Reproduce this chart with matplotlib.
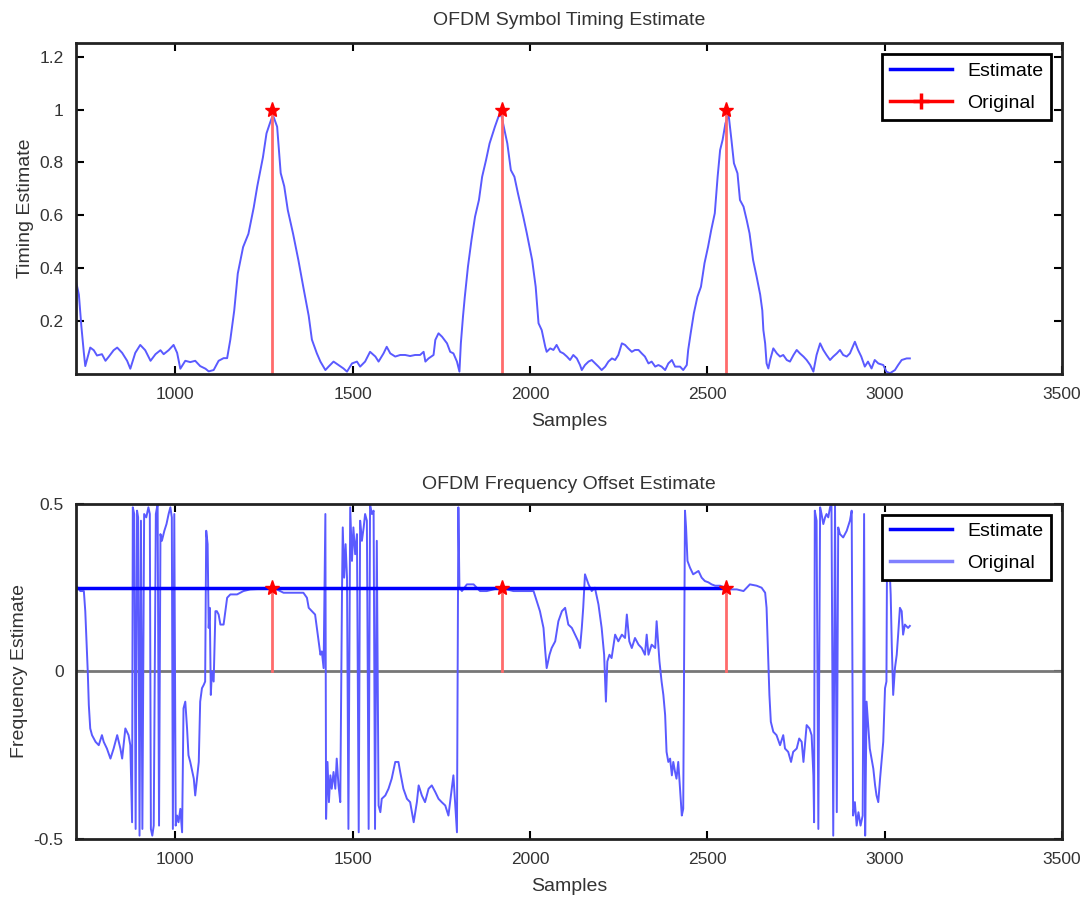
import matplotlib
matplotlib.use("Agg")
from matplotlib import pyplot as plt
from matplotlib.lines import Line2D

# Timing metric (top panel)
timing_x = [720, 728, 735, 742, 746, 760, 770, 779, 793, 803, 812, 826, 836, 850, 864, 873,
	887, 901, 915, 930, 944, 958, 967, 981, 995, 1005, 1014, 1028, 1042, 1056, 1070, 1085,
	1094, 1108, 1122, 1136, 1146, 1155, 1166, 1176, 1191, 1206, 1221, 1231, 1247, 1257, 1267,
	1275, 1287, 1297, 1307, 1317, 1332, 1347, 1362, 1376, 1385, 1399, 1409, 1423, 1432, 1446,
	1460, 1474, 1484, 1498, 1512, 1521, 1535, 1549, 1564, 1573, 1587, 1596, 1606, 1620, 1634,
	1648, 1662, 1676, 1690, 1700, 1705, 1714, 1728, 1733, 1742, 1752, 1766, 1775, 1784, 1794,
	1801, 1805, 1811, 1816, 1825, 1835, 1845, 1856, 1865, 1876, 1886, 1901, 1911, 1919, 1926,
	1936, 1946, 1956, 1966, 1981, 1991, 2006, 2016, 2024, 2033, 2043, 2047, 2057, 2066, 2075,
	2085, 2094, 2104, 2113, 2122, 2132, 2141, 2146, 2155, 2165, 2174, 2184, 2193, 2202, 2212,
	2221, 2231, 2240, 2249, 2259, 2268, 2277, 2287, 2296, 2306, 2315, 2324, 2334, 2343, 2353,
	2362, 2371, 2381, 2390, 2400, 2409, 2423, 2432, 2442, 2446, 2453, 2462, 2472, 2482, 2492,
	2502, 2511, 2521, 2529, 2536, 2543, 2551, 2560, 2568, 2575, 2585, 2592, 2602, 2611, 2619,
	2629, 2639, 2649, 2655, 2658, 2663, 2667, 2672, 2677, 2686, 2696, 2705, 2714, 2724, 2733,
	2743, 2752, 2761, 2771, 2780, 2790, 2799, 2808, 2818, 2827, 2836, 2846, 2855, 2865, 2874,
	2883, 2893, 2902, 2916, 2925, 2934, 2944, 2953, 2963, 2972, 2982, 2996, 3005, 3015, 3029,
	3038, 3048, 3062, 3071]
timing_y = [0.35, 0.30, 0.18, 0.08, 0.03, 0.10, 0.09, 0.07, 0.075, 0.05, 0.065, 0.09, 0.10, 0.08, 0.05, 0.02,
	0.08, 0.11, 0.09, 0.05, 0.075, 0.09, 0.075, 0.09, 0.11, 0.08, 0.02, 0.05, 0.045, 0.05, 0.03, 0.02,
	0.01, 0.015, 0.05, 0.06, 0.06, 0.13, 0.24, 0.38, 0.48, 0.53, 0.63, 0.71, 0.82, 0.91, 0.95,
	0.98, 0.935, 0.76, 0.71, 0.62, 0.53, 0.43, 0.32, 0.22, 0.13, 0.078, 0.047, 0.015, 0.028, 0.047,
	0.034, 0.021, 0.009, 0.04, 0.047, 0.028, 0.047, 0.084, 0.066, 0.047, 0.078, 0.103, 0.078, 0.066, 0.072,
	0.072, 0.068, 0.072, 0.072, 0.084, 0.047, 0.059, 0.072, 0.129, 0.154, 0.141, 0.116, 0.084, 0.078, 0.047,
	0.009, 0.116, 0.217, 0.29, 0.406, 0.507, 0.595, 0.658, 0.746, 0.809, 0.872, 0.935, 0.973, 0.98, 0.935,
	0.872, 0.771, 0.746, 0.683, 0.595, 0.532, 0.431, 0.33, 0.192, 0.166, 0.103, 0.084, 0.097, 0.091, 0.110,
	0.084, 0.078, 0.066, 0.053, 0.072, 0.059, 0.034, 0.015, 0.034, 0.047, 0.053, 0.04, 0.028, 0.015, 0.028,
	0.047, 0.059, 0.053, 0.072, 0.116, 0.110, 0.097, 0.084, 0.091, 0.091, 0.078, 0.066, 0.04, 0.047, 0.028,
	0.034, 0.028, 0.015, 0.04, 0.053, 0.028, 0.028, 0.015, 0.034, 0.091, 0.154, 0.23, 0.292, 0.33, 0.419,
	0.481, 0.545, 0.608, 0.746, 0.847, 0.885, 0.948, 0.98, 0.885, 0.797, 0.759, 0.658, 0.633, 0.582, 0.532,
	0.431, 0.368, 0.30, 0.24, 0.166, 0.116, 0.04, 0.021, 0.053, 0.097, 0.078, 0.066, 0.072, 0.053, 0.047,
	0.072, 0.091, 0.078, 0.066, 0.053, 0.034, 0.009, 0.072, 0.116, 0.091, 0.072, 0.053, 0.066, 0.078, 0.091,
	0.072, 0.066, 0.078, 0.122, 0.091, 0.066, 0.028, 0.047, 0.021, 0.053, 0.04, 0.034, 0.009, 0.003, 0.015,
	0.034, 0.053, 0.059, 0.059]

# Frequency offset estimate (bottom panel)
freq_x = [721, 732, 742, 746, 751, 753, 756, 760, 765, 775, 784, 793, 798, 807, 817, 826, 836, 845, 850,
	859, 868, 873, 878, 880, 884, 888, 892, 895, 899, 903, 907, 912, 918, 924, 928, 931, 935, 939,
	945, 950, 954, 958, 962, 969, 975, 981, 986, 990, 993, 997, 1001, 1005, 1009, 1014, 1019, 1023,
	1028, 1033, 1037, 1042, 1052, 1056, 1061, 1066, 1070, 1075, 1080, 1084, 1087, 1091, 1094, 1097,
	1100, 1103, 1108, 1113, 1117, 1122, 1127, 1136, 1146, 1155, 1174, 1192, 1211, 1249, 1268, 1286,
	1305, 1324, 1343, 1361, 1371, 1376, 1385, 1394, 1399, 1404, 1409, 1413, 1418, 1423, 1425, 1429,
	1433, 1437, 1441, 1446, 1451, 1455, 1460, 1465, 1470, 1472, 1476, 1480, 1484, 1488, 1493, 1498,
	1502, 1507, 1512, 1517, 1521, 1526, 1531, 1535, 1540, 1545, 1549, 1554, 1559, 1563, 1568, 1573,
	1578, 1582, 1592, 1601, 1610, 1620, 1629, 1634, 1643, 1653, 1662, 1672, 1681, 1686, 1695, 1704,
	1714, 1723, 1733, 1742, 1751, 1761, 1770, 1777, 1784, 1794, 1798, 1801, 1808, 1822, 1841, 1859,
	1878, 1897, 1916, 1935, 1953, 1972, 1991, 2010, 2019, 2028, 2038, 2043, 2047, 2055, 2061, 2071,
	2080, 2090, 2099, 2108, 2118, 2127, 2136, 2141, 2146, 2150, 2155, 2165, 2174, 2183, 2193, 2202,
	2209, 2214, 2218, 2224, 2230, 2240, 2249, 2259, 2268, 2273, 2280, 2287, 2296, 2306, 2315, 2324,
	2329, 2334, 2343, 2353, 2357, 2365, 2371, 2376, 2381, 2385, 2390, 2395, 2400, 2404, 2409, 2413,
	2418, 2423, 2428, 2432, 2437, 2440, 2444, 2451, 2460, 2475, 2484, 2493, 2503, 2512, 2522, 2536,
	2550, 2564, 2583, 2602, 2620, 2639, 2653, 2663, 2667, 2672, 2675, 2679, 2686, 2695, 2705, 2714,
	2719, 2728, 2736, 2742, 2752, 2759, 2766, 2771, 2780, 2788, 2794, 2799, 2801, 2803, 2808, 2813,
	2818, 2822, 2827, 2832, 2836, 2841, 2846, 2850, 2855, 2860, 2865, 2869, 2874, 2883, 2893, 2902,
	2907, 2911, 2916, 2921, 2926, 2932, 2938, 2942, 2945, 2949, 2954, 2958, 2963, 2968, 2973, 2977,
	2982, 2987, 2991, 2996, 3001, 3005, 3007, 3013, 3017, 3020, 3024, 3029, 3034, 3038, 3043, 3048,
	3052, 3057, 3066, 3071]
freq_y = [0.255, 0.24, 0.24, 0.18, 0.05, 0.0, -0.10, -0.17, -0.19, -0.21, -0.22, -0.19, -0.21, -0.23, -0.26, -0.23, -0.19, -0.23, -0.26,
	-0.17, -0.19, -0.22, -0.45, 0.49, 0.47, -0.47, 0.48, 0.46, -0.49, 0.45, -0.47, 0.47, 0.46, 0.49, 0.47, -0.47, -0.49, -0.46,
	0.47, 0.50, -0.46, 0.41, 0.39, 0.42, 0.44, 0.47, 0.49, 0.46, -0.47, 0.47, -0.46, -0.43, -0.45, -0.41, -0.48, -0.11,
	-0.09, -0.17, -0.25, -0.27, -0.32, -0.37, -0.32, -0.27, -0.09, -0.05, -0.04, -0.03, 0.42, 0.38, 0.13, 0.19,
	-0.07, 0.0, -0.03, 0.18, 0.18, 0.17, 0.14, 0.14, 0.22, 0.23, 0.23, 0.24, 0.245, 0.247, 0.25, 0.245,
	0.235, 0.235, 0.235, 0.235, 0.22, 0.19, 0.18, 0.17, 0.13, 0.09, 0.05, 0.06, 0.01, 0.47, -0.44, -0.27,
	-0.39, -0.31, -0.35, -0.30, -0.35, -0.26, -0.34, -0.39, 0.25, 0.43, 0.28, 0.38, 0.28, -0.47, 0.49, 0.33,
	0.43, 0.35, 0.41, -0.48, 0.45, 0.39, 0.43, 0.47, 0.45, -0.47, 0.50, 0.47, 0.48, -0.47, 0.39, -0.40,
	-0.42, -0.38, -0.37, -0.35, -0.32, -0.27, -0.27, -0.30, -0.35, -0.38, -0.39, -0.45, -0.39, -0.34, -0.37, -0.39,
	-0.35, -0.34, -0.36, -0.38, -0.39, -0.40, -0.43, -0.37, -0.31, -0.48, 0.49, 0.25, 0.24, 0.26, 0.26, 0.24,
	0.24, 0.245, 0.25, 0.245, 0.24, 0.24, 0.24, 0.24, 0.21, 0.18, 0.13, 0.06, 0.01, 0.05, 0.07, 0.09,
	0.15, 0.18, 0.19, 0.14, 0.13, 0.11, 0.09, 0.07, 0.13, 0.19, 0.29, 0.26, 0.24, 0.25, 0.20, 0.13,
	0.05, -0.09, 0.03, 0.05, 0.04, 0.11, 0.09, 0.11, 0.10, 0.17, 0.09, 0.07, 0.10, 0.08, 0.07, 0.05,
	0.11, 0.05, 0.08, 0.07, 0.15, 0.03, -0.03, -0.07, -0.13, -0.24, -0.27, -0.26, -0.31, -0.27, -0.30, -0.32,
	-0.27, -0.35, -0.43, -0.41, 0.48, 0.43, 0.33, 0.31, 0.29, 0.30, 0.28, 0.27, 0.266, 0.26, 0.256, 0.256,
	0.25, 0.245, 0.245, 0.24, 0.26, 0.256, 0.25, 0.235, 0.19, 0.03, -0.07, -0.15, -0.18, -0.19, -0.22, -0.19,
	-0.23, -0.24, -0.27, -0.24, -0.23, -0.20, -0.21, -0.27, -0.16, -0.17, -0.19, -0.31, -0.45, 0.48, 0.45, -0.47,
	0.49, 0.47, 0.44, 0.46, 0.47, 0.46, 0.49, 0.50, -0.49, 0.50, -0.42, 0.43, 0.41, 0.40, 0.42, 0.45,
	0.48, -0.43, -0.39, -0.46, -0.42, -0.46, -0.43, 0.47, -0.49, -0.09, -0.17, -0.23, -0.26, -0.29, -0.34, -0.37,
	-0.39, -0.32, -0.27, -0.21, -0.05, -0.03, 0.42, 0.33, 0.23, 0.08, -0.07, 0.01, 0.05, 0.11, 0.19, 0.18,
	0.11, 0.14, 0.13, 0.136]

symbol_starts = [1272, 1920, 2552]
timing_peak = 1.0
true_offset = 0.25
offset_line_x = [720, 2552]

plt.rcParams["font.family"] = ["Liberation Sans", "DejaVu Sans"]
txt = "#333333"
curve_col = "#5a5aff"
stem_col = "#ff6b6b"

fig, ax = plt.subplots(nrows=2, ncols=1, figsize=(10.88, 8.98), dpi=100)
ax[0].set_position([0.0699, 0.5835, 0.9062, 0.3681])
ax[1].set_position([0.0699, 0.0657, 0.9062, 0.3731])

# top: timing metric
ax[0].plot(timing_x, timing_y, color=curve_col, linewidth=1.4)
for s in symbol_starts:
	ax[0].plot([s, s], [0, timing_peak], color=stem_col, linewidth=2)
ax[0].plot(symbol_starts, [timing_peak] * len(symbol_starts), "*", color="red", markersize=11)
ax[0].set_xlim(720, 3500)
ax[0].set_ylim(0, 1.25)
ax[0].set_yticks([0.2, 0.4, 0.6, 0.8, 1.0, 1.2])
ax[0].set_yticklabels(["0.2", "0.4", "0.6", "0.8", "1", "1.2"])
ax[0].set_title("OFDM Symbol Timing Estimate", fontsize=14, color=txt, pad=13)
ax[0].set_ylabel("Timing Estimate", fontsize=14, color=txt)
custom_lines = [
	Line2D([0], [0], color="#0000ff", lw=2.5),
	Line2D([0], [0], color="red", lw=2.5, marker="+", markersize=12, markeredgewidth=2.5),
]
ax[0].legend(custom_lines, ["Estimate", "Original"], loc="upper right", fontsize=14,
	fancybox=False, edgecolor="black", framealpha=1, borderaxespad=0.55,
	handlelength=3.2, labelspacing=0.75)

# bottom: frequency offset
ax[1].axhline(0, color="#777777", linewidth=2)
ax[1].plot(freq_x, freq_y, color=curve_col, linewidth=1.4)
ax[1].plot(offset_line_x, [true_offset, true_offset], color="#0000ff", linewidth=2.5)
for s in symbol_starts:
	ax[1].plot([s, s], [0, true_offset], color=stem_col, linewidth=2)
ax[1].plot(symbol_starts, [true_offset] * len(symbol_starts), "*", color="red", markersize=11)
ax[1].set_xlim(720, 3500)
ax[1].set_ylim(-0.5, 0.5)
ax[1].set_yticks([-0.5, 0, 0.5])
ax[1].set_yticklabels(["-0.5", "0", "0.5"])
ax[1].set_title("OFDM Frequency Offset Estimate", fontsize=14, color=txt, pad=11)
ax[1].set_ylabel("Frequency Estimate", fontsize=14, color=txt)
custom_lines = [
	Line2D([0], [0], color="#0000ff", lw=2.5),
	Line2D([0], [0], color="#8080ff", lw=2.5),
]
ax[1].legend(custom_lines, ["Estimate", "Original"], loc="upper right", fontsize=14,
	fancybox=False, edgecolor="black", framealpha=1, borderaxespad=0.55,
	handlelength=3.2, labelspacing=0.75)

for a in ax:
	a.set_xticks([1000, 1500, 2000, 2500, 3000, 3500])
	a.set_xlabel("Samples", fontsize=14, color=txt, labelpad=8)
	a.tick_params(direction="in", length=6, width=1.5, top=True, right=True,
		labelsize=12.5, labelcolor=txt, pad=9)
	for sp in a.spines.values():
		sp.set_linewidth(2)
		sp.set_color("#222222")
	a.get_legend().get_frame().set_linewidth(2)

plt.savefig("out.png", dpi=100)
plt.close()
